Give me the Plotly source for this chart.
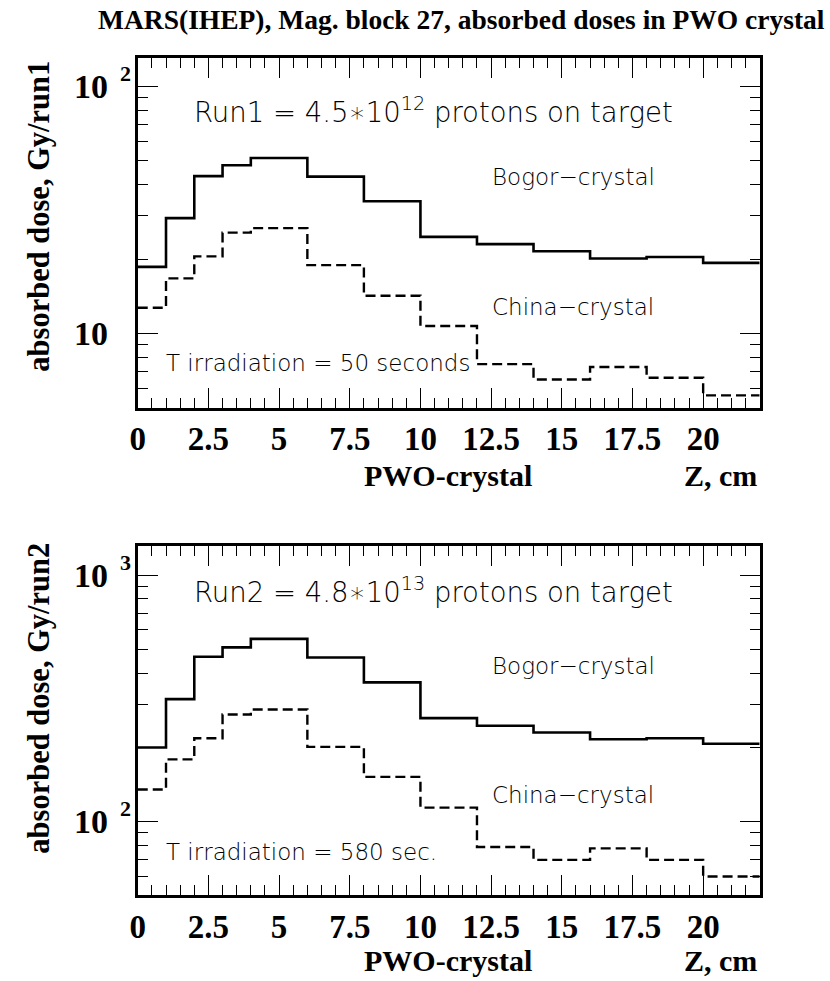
import plotly.graph_objects as go

# ---------------- data ----------------
bin_edges = [0, 1, 2, 3, 4, 6, 8, 10, 12, 14, 16, 18, 20, 22]

run1_bogor = [18.6, 29.3, 43.4, 48.0, 51.4, 43.2, 34.3, 24.6, 23.0, 21.5, 20.1, 20.4, 19.3]
run1_china = [12.7, 16.7, 20.5, 25.6, 26.7, 18.9, 14.2, 10.7, 7.5, 6.5, 7.3, 6.6, 5.6]

run2_bogor = [200, 314, 466, 509, 551, 463, 367, 263, 245, 230, 216, 218, 207]
run2_china = [135, 179, 218, 272, 285, 201, 152, 114, 79, 70, 78, 70, 60]

x_tick_vals = [0, 2.5, 5, 7.5, 10, 12.5, 15, 17.5, 20]
x_tick_text = ["0", "2.5", "5", "7.5", "10", "12.5", "15", "17.5", "20"]

W, H = 830, 981
def px(x):
    return x / W
def py(y):
    return 1 - y / H

SERIF = "Liberation Serif"
SANS = "DejaVu Sans ExtraLight, DejaVu Sans"

fig = go.Figure()

def step_xy(vals):
    return list(bin_edges), list(vals) + [vals[-1]]

panels = [
    ("x", "y", run1_bogor, run1_china),
    ("x2", "y2", run2_bogor, run2_china),
]
for xa, ya, bog, chi in panels:
    xs, ys = step_xy(bog)
    fig.add_trace(go.Scatter(x=xs, y=ys, mode="lines", line=dict(shape="hv", color="black", width=2.6),
                             xaxis=xa, yaxis=ya, showlegend=False, hoverinfo="skip"))
    xs, ys = step_xy(chi)
    fig.add_trace(go.Scatter(x=xs, y=ys, mode="lines", line=dict(shape="hv", color="black", width=2.4, dash="10px,5px"),
                             xaxis=xa, yaxis=ya, showlegend=False, hoverinfo="skip"))

xdom = [px(131), px(759)]
top_dom = [py(407.7), py(58)]
bot_dom = [py(895), py(545.7)]

xaxis_common = dict(
    range=[0, 22], showline=True, linewidth=3, linecolor="black", mirror="ticks",
    ticks="inside", ticklen=20, tickwidth=1, tickcolor="black",
    tickvals=x_tick_vals, ticktext=["<b>%s</b>" % t for t in x_tick_text],
    tickfont=dict(family=SERIF, size=33, color="black"),
    minor=dict(ticks="inside", ticklen=10, tickwidth=1, tickcolor="black", dtick=0.5, showgrid=False),
    showgrid=False, zeroline=False, domain=xdom, fixedrange=True,
)
yaxis_common = dict(
    type="log", showline=True, linewidth=3, linecolor="black", mirror="ticks",
    ticks="inside", ticklen=20, tickwidth=1, tickcolor="black",
    dtick=1, showticklabels=False,
    minor=dict(ticks="inside", ticklen=10, tickwidth=1, tickcolor="black", dtick="D1", showgrid=False),
    showgrid=False, zeroline=False, fixedrange=True,
)

fig.update_layout(
    width=W, height=H, margin=dict(l=0, r=0, t=0, b=0),
    paper_bgcolor="white", plot_bgcolor="white",
    xaxis=dict(xaxis_common, anchor="y"),
    yaxis=dict(yaxis_common, range=[0.6983, 2.1164], domain=top_dom, anchor="x"),
    xaxis2=dict(xaxis_common, anchor="y2"),
    yaxis2=dict(yaxis_common, range=[1.7029, 3.1188], domain=bot_dom, anchor="x2"),
)

bold = lambda s: "<b>%s</b>" % s
ann = []
# main title
ann.append(dict(text=bold("MARS(IHEP), Mag. block 27, absorbed doses in PWO crystal"), x=px(458), y=py(20),
                xref="paper", yref="paper", showarrow=False, xanchor="center", yanchor="middle",
                font=dict(family=SERIF, size=27.5, color="black")))

# y tick labels (10, 10^n)
ylabels = [("y", 1, None), ("y", 2, "2"), ("y2", 2, "2"), ("y2", 3, "3")]
for yref, dec, expo in ylabels:
    ann.append(dict(text=bold("10"), x=px(103), y=dec, xref="paper", yref=yref, showarrow=False,
                    xanchor="right", yanchor="middle",
                    font=dict(family=SERIF, size=34, color="black")))
    if expo:
        ann.append(dict(text=bold(expo), x=px(111), y=dec, xref="paper", yref=yref, showarrow=False,
                        xanchor="left", yanchor="middle", yshift=13,
                        font=dict(family=SERIF, size=22, color="black")))

# axis titles
for run, dy, ymid in [("run1", 0, 216), ("run2", 485, 698)]:
    ann.append(dict(text=bold("PWO-crystal"), x=px(444), y=py(475 + dy),
                    xref="paper", yref="paper", showarrow=False, xanchor="center", yanchor="middle",
                    font=dict(family=SERIF, size=30, color="black")))
    ann.append(dict(text=bold("Z, cm"), x=px(758), y=py(475 + dy),
                    xref="paper", yref="paper", showarrow=False, xanchor="right", yanchor="middle",
                    font=dict(family=SERIF, size=30, color="black")))
    ann.append(dict(text=bold("absorbed dose, Gy/" + run), x=px(31), y=py(ymid),
                    xref="paper", yref="paper", showarrow=False, xanchor="center", yanchor="middle",
                    textangle=-90,
                    font=dict(family=SERIF, size=30.5, color="black")))

lab_font = dict(family=SANS, size=23, color="black", weight=200)
run_font = dict(family=SANS, size=27.5, color="black", weight=200)
in_texts = [
    ("Run1 = 4.5\u221710<sup>12</sup> protons on target", 186, 110, run_font),
    ("Bogor\u2212crystal", 487, 177, lab_font),
    ("China\u2212crystal", 487, 307, lab_font),
    ("T irradiation = 50 seconds", 158, 363, lab_font),
    ("Run2 = 4.8\u221710<sup>13</sup> protons on target", 186, 590, run_font),
    ("Bogor\u2212crystal", 487, 666, lab_font),
    ("China\u2212crystal", 487, 795, lab_font),
    ("T irradiation = 580 sec.", 158, 852, lab_font),
]
for t, x, y, f in in_texts:
    ann.append(dict(text=t, x=px(x), y=py(y), xref="paper", yref="paper", showarrow=False,
                    xanchor="left", yanchor="middle", font=f))

fig.update_layout(annotations=ann)
fig.write_html("out.html")
